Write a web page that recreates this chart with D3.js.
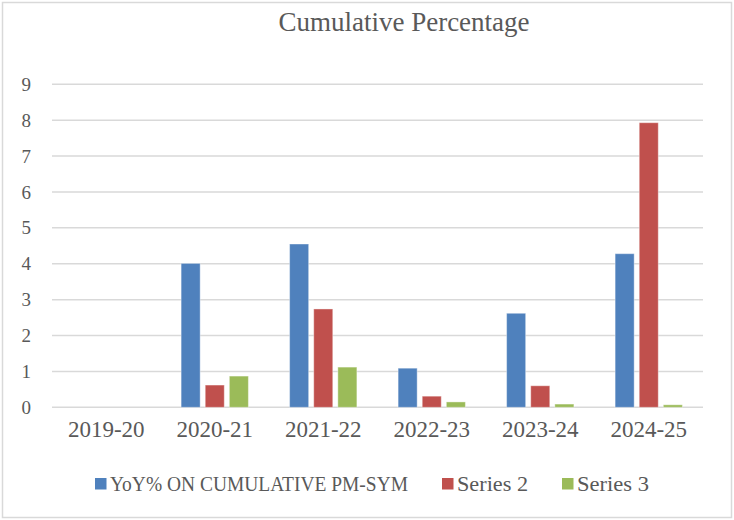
<!DOCTYPE html>
<html>
<head>
    <script src="https://d3js.org/d3.v7.min.js"></script>
    <style>
        body { margin: 0; background: #fff; }
        text { font-family: "Liberation Serif", serif; fill: #595959; }
    </style>
</head>
<body>
    <div id="chart"></div>
    <script>
        // data
        var years = ["2019-20", "2020-21", "2021-22", "2022-23", "2023-24", "2024-25"];
        var seriesNames = ["YoY% ON CUMULATIVE PM-SYM", "Series 2", "Series 3"];
        var yoy = [0, 4.01, 4.55, 1.09, 2.62, 4.28];
        var series2 = [0, 0.62, 2.74, 0.31, 0.60, 7.93];
        var series3 = [0, 0.87, 1.12, 0.15, 0.09, 0.07];
        var yTicks = [0, 1, 2, 3, 4, 5, 6, 7, 8, 9];
        var colors = ["#4f81bd", "#c0504d", "#9bbb59"];

        var allSeries = [yoy, series2, series3];

        var W = 734, H = 520;
        var margin = { top: 84.3, right: 31, bottom: 112.7, left: 52 };
        var width = W - margin.left - margin.right,
            height = H - margin.top - margin.bottom;

        var svg = d3.select("#chart").append("svg")
            .attr("width", W)
            .attr("height", H);

        // outer chart border
        svg.append("rect")
            .attr("x", 2.5).attr("y", 2.5)
            .attr("width", W - 5).attr("height", H - 5)
            .attr("fill", "#fff")
            .attr("stroke", "#d9d9d9")
            .attr("stroke-width", 1.5);

        svg.append("text")
            .attr("x", 404)
            .attr("y", 31)
            .attr("text-anchor", "middle")
            .style("font-size", "27px")
            .text("Cumulative Percentage");

        var g = svg.append("g")
            .attr("transform", "translate(" + margin.left + "," + margin.top + ")");

        var x0 = d3.scaleBand().domain(years).range([0, width]).padding(0);
        var x1 = d3.scaleBand().domain(seriesNames)
            .range([x0.bandwidth() * 0.19, x0.bandwidth() * 0.81])
            .paddingInner(0.21);
        var y = d3.scaleLinear().domain([0, 9]).range([height, 0]);

        // gridlines
        g.append("g")
            .selectAll("line")
            .data(yTicks)
            .join("line")
            .attr("x1", 0).attr("x2", width)
            .attr("y1", function (d) { return y(d); })
            .attr("y2", function (d) { return y(d); })
            .attr("stroke", "#d9d9d9")
            .attr("stroke-width", 1.5);

        // y axis labels
        var yAxis = g.append("g")
            .call(d3.axisLeft(y).tickValues(yTicks).tickSize(0).tickPadding(21));
        yAxis.select(".domain").remove();
        yAxis.selectAll("text")
            .style("font-size", "19px")
            .attr("fill", "#595959");

        // x axis labels
        var xAxis = g.append("g")
            .attr("transform", "translate(0," + height + ")")
            .call(d3.axisBottom(x0).tickSize(0).tickPadding(13));
        xAxis.select(".domain").remove();
        xAxis.selectAll("text")
            .style("font-size", "23px")
            .attr("fill", "#595959");

        // bars
        var groups = g.append("g")
            .selectAll("g")
            .data(years)
            .join("g")
            .attr("transform", function (d) { return "translate(" + x0(d) + ",0)"; });

        groups.selectAll("rect")
            .data(function (d, i) {
                return seriesNames.map(function (s, j) { return { s: s, v: allSeries[j][i], c: colors[j] }; });
            })
            .join("rect")
            .filter(function (d) { return d.v > 0; })
            .attr("x", function (d) { return x1(d.s); })
            .attr("width", x1.bandwidth())
            .attr("y", function (d) { return y(d.v); })
            .attr("height", function (d) { return y(0) - y(d.v); })
            .attr("fill", function (d) { return d.c; })
            .attr("stroke", "#fff")
            .attr("stroke-opacity", 0.4)
            .attr("stroke-width", 1);

        // legend (Cambria-like widths, squeezed to fit)
        var legendX = [95, 442, 562];
        var legendW = [298, 71, 72];
        var legend = svg.append("g")
            .selectAll("g")
            .data(seriesNames)
            .join("g")
            .attr("transform", function (d, i) { return "translate(" + legendX[i] + ",478)"; });
        legend.append("rect")
            .attr("width", 11.5).attr("height", 11.5)
            .attr("fill", function (d, i) { return colors[i]; });
        legend.append("text")
            .attr("x", 15)
            .attr("y", 12.5)
            .attr("textLength", function (d, i) { return legendW[i]; })
            .attr("lengthAdjust", "spacingAndGlyphs")
            .style("font-size", "21px")
            .text(function (d) { return d; });
    </script>
</body>
</html>
